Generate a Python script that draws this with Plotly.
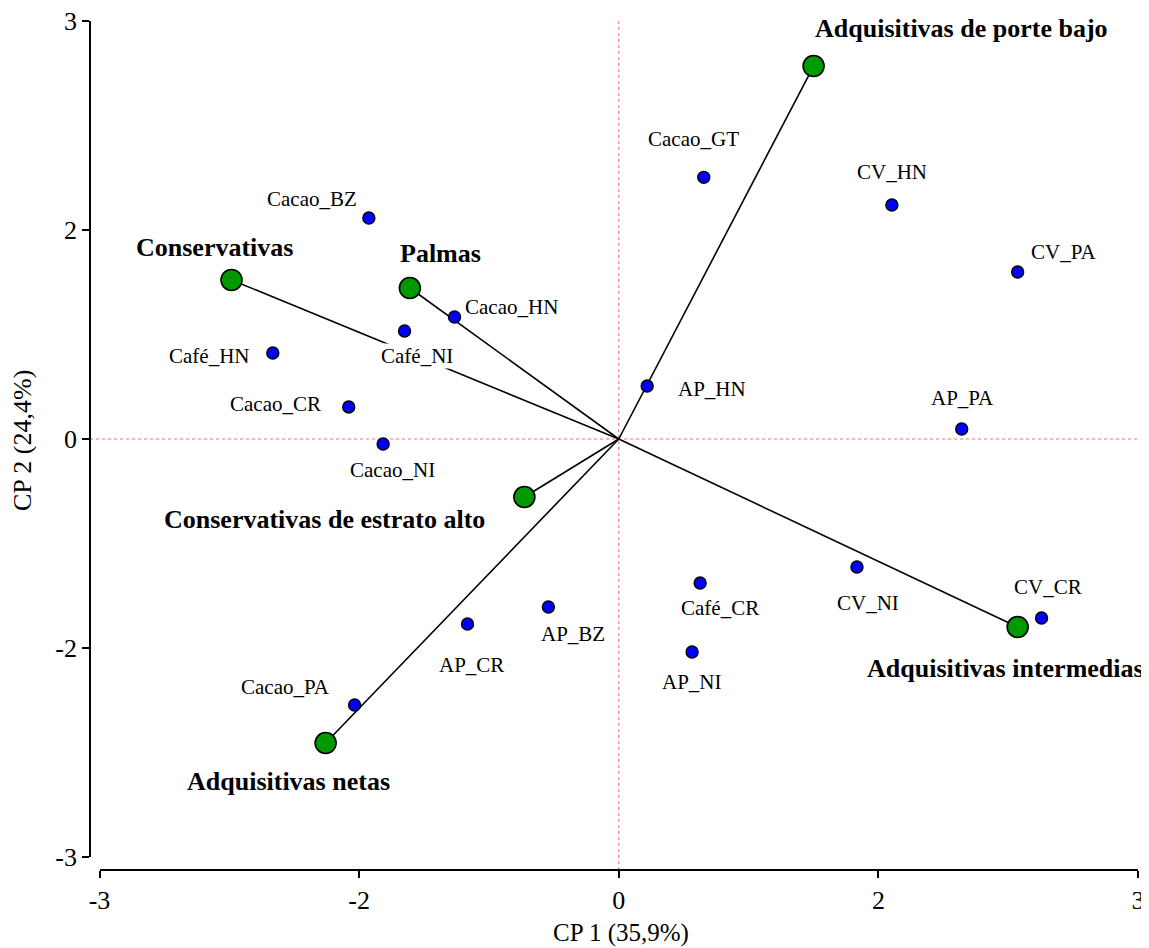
import plotly.graph_objects as go

# ---------------- data ----------------
obs_names = ["Cacao_GT", "CV_HN", "Cacao_BZ", "CV_PA", "Cacao_HN", "Café_NI",
             "Café_HN", "AP_HN", "Cacao_CR", "AP_PA", "Cacao_NI", "CV_NI",
             "Café_CR", "CV_CR", "AP_BZ", "AP_CR", "AP_NI", "Cacao_PA"]
obs_x = [0.655, 2.104, -1.925, 3.073, -1.265, -1.650,
         -2.665, 0.219, -2.080, 2.642, -1.815, 1.835,
         0.627, 3.257, -0.542, -1.165, 0.565, -2.035]
obs_y = [2.504, 2.239, 2.115, 1.598, 1.167, 1.033,
         0.823, 0.507, 0.306, 0.096, -0.048, -1.225,
         -1.378, -1.713, -1.608, -1.770, -2.038, -2.545]

var_names = ["Adquisitivas de porte bajo", "Conservativas", "Palmas",
             "Conservativas de estrato alto", "Adquisitivas intermedias",
             "Adquisitivas netas"]
var_x = [1.501, -2.983, -1.609, -0.727, 3.073, -2.258]
var_y = [3.569, 1.522, 1.445, -0.555, -1.799, -2.909]

x_tickvals = [-4, -2, 0, 2, 4]
x_ticktext = ["-3", "-2", "0", "2", "3"]
y_tickvals = [-4, -2, 0, 2, 4]
y_ticktext = ["-3", "-2", "0", "2", "3"]

x_title = "CP 1 (35,9%)"
y_title = "CP 2 (24,4%)"

# ---------------- label placement (pixel offsets) ----------------
obs_label_dx = [-10, 0, -57, 46, 57, 12, -64, 65, -73, 1, 9, 11, 20, 6, 25, 4, 0, -69]
obs_label_dy = [-38, -33, -19, -20, -10, 25, 3, 3, -3, -31, 26, 36, 25, -31, 27, 41, 30, -18]
var_label_dx = [148, -17, 31, -200, -12, -37]
var_label_dy = [-38, -32, -35, 22, 41, 39]

FONT = "Liberation Serif"
PAGE_OFF = 8          # default page margin around the figure
W, H = 1149 - PAGE_OFF, 948 - PAGE_OFF
X_LEFT, X_RIGHT = 99.5 - PAGE_OFF, 1138.0 - PAGE_OFF
Y_TOP, Y_BOTTOM = 21.0 - PAGE_OFF, 857.0 - PAGE_OFF
XAXIS_Y = 870.0 - PAGE_OFF
YAXIS_X = 90.0 - PAGE_OFF
XTITLE_POS = (621.0 - PAGE_OFF, 933.0 - PAGE_OFF)
YTITLE_POS = (22.0 - PAGE_OFF, 441.0 - PAGE_OFF)

fig = go.Figure()

# vectors from origin
lx, ly = [], []
for vx, vy in zip(var_x, var_y):
    lx += [0, vx, None]
    ly += [0, vy, None]
fig.add_trace(go.Scatter(x=lx, y=ly, mode="lines",
                         line=dict(color="black", width=1.6),
                         hoverinfo="skip", showlegend=False))

# observations
fig.add_trace(go.Scatter(x=obs_x, y=obs_y, mode="markers", text=obs_names,
                         marker=dict(size=12, color="#0000FF",
                                     line=dict(color="black", width=1.4)),
                         showlegend=False))

# variables
fig.add_trace(go.Scatter(x=var_x, y=var_y, mode="markers", text=var_names,
                         marker=dict(size=21, color="#009900",
                                     line=dict(color="black", width=1.6)),
                         showlegend=False))

annotations = []
for n, x, y, dx, dy in zip(obs_names, obs_x, obs_y, obs_label_dx, obs_label_dy):
    annotations.append(dict(x=x, y=y, xref="x", yref="y", text=n,
                            showarrow=False, xshift=dx, yshift=-dy,
                            font=dict(family=FONT, size=21, color="black"),
                            bgcolor="white", borderpad=0))
for n, x, y, dx, dy in zip(var_names, var_x, var_y, var_label_dx, var_label_dy):
    annotations.append(dict(x=x, y=y, xref="x", yref="y", text="<b>" + n + "</b>",
                            showarrow=False, xshift=dx, yshift=-dy,
                            font=dict(family=FONT, size=26, color="black"),
                            bgcolor="white", borderpad=0))

# axis titles
annotations.append(dict(x=XTITLE_POS[0] / W, y=1 - XTITLE_POS[1] / H,
                        xref="paper", yref="paper", text=x_title, showarrow=False,
                        xanchor="center", yanchor="middle",
                        font=dict(family=FONT, size=25, color="black")))
annotations.append(dict(x=YTITLE_POS[0] / W, y=1 - YTITLE_POS[1] / H,
                        xref="paper", yref="paper", text=y_title, showarrow=False,
                        textangle=-90, xanchor="center", yanchor="middle",
                        font=dict(family=FONT, size=26, color="black")))

shapes = [
    dict(type="line", xref="x", yref="paper", x0=0, x1=0,
         y0=1 - XAXIS_Y / H, y1=1 - Y_TOP / H,
         line=dict(color="#FF7070", width=1, dash="dot"), layer="below"),
    dict(type="line", xref="paper", yref="y", x0=YAXIS_X / W, x1=X_RIGHT / W,
         y0=0, y1=0,
         line=dict(color="#FF7070", width=1, dash="dot"), layer="below"),
]

axis_common = dict(showline=True, linecolor="black", linewidth=1.7,
                   ticks="outside", ticklen=7, tickwidth=1.5, tickcolor="black",
                   showgrid=False, zeroline=False, automargin=False,
                   ticklabeloverflow="allow",
                   tickfont=dict(family=FONT, size=26, color="black"))

fig.update_layout(
    template="none",
    width=W, height=H,
    margin=dict(l=0, r=0, t=0, b=0, pad=0),
    paper_bgcolor="white", plot_bgcolor="white",
    showlegend=False,
    font=dict(family=FONT, color="black"),
    xaxis=dict(domain=[X_LEFT / W, X_RIGHT / W], range=[-4, 4],
               anchor="free", position=1 - XAXIS_Y / H,
               tickvals=x_tickvals, ticktext=x_ticktext,
               **axis_common),
    yaxis=dict(domain=[1 - Y_BOTTOM / H, 1 - Y_TOP / H], range=[-4, 4],
               anchor="free", position=YAXIS_X / W,
               tickvals=y_tickvals, ticktext=y_ticktext,
               **axis_common),
    annotations=annotations,
    shapes=shapes,
)

fig.write_html("out.html")
